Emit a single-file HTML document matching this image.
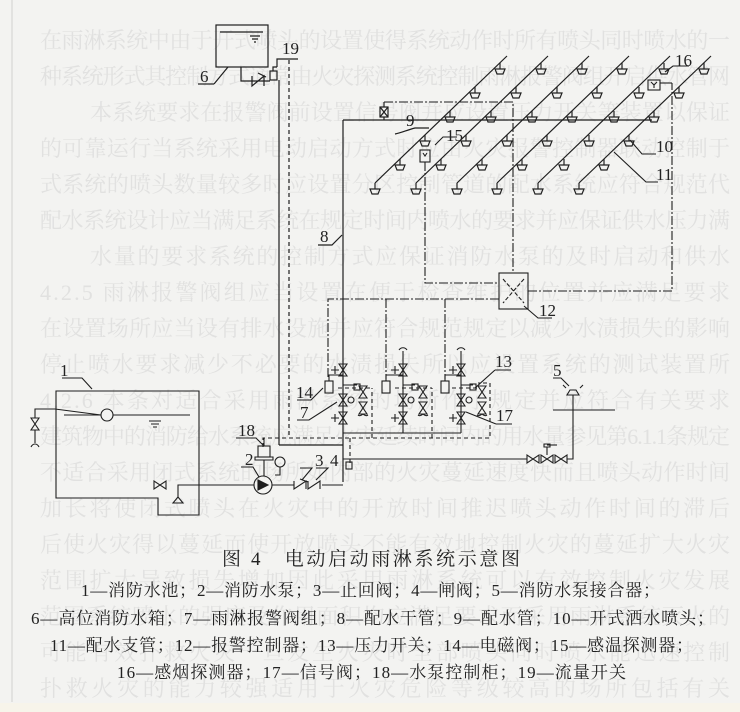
<!DOCTYPE html>
<html><head><meta charset="utf-8"><style>
html,body{margin:0;padding:0;background:#f3f3f1;}
svg{display:block}
.bg{font-family:"Liberation Serif","Noto Serif CJK SC",serif;font-size:22px;fill:#e1e1e0}
.lb{font-family:"Liberation Serif","Noto Serif CJK SC",serif;font-size:17px;fill:#222}
.cap{font-family:"Liberation Serif","Noto Serif CJK SC",serif;font-size:19px;fill:#222}
.lg{font-family:"Liberation Serif","Noto Serif CJK SC",serif;font-size:17px;fill:#222}
</style></head><body>
<svg width="740" height="712" viewBox="0 0 740 712" xmlns="http://www.w3.org/2000/svg">
<defs>
<g id="h" fill="none" stroke="#222" stroke-width="1.2"><path d="M0,0v6M-5,6h10l-2,5h-6z"/></g>
<g id="vv" fill="none" stroke="#222" stroke-width="1.1"><path d="M-4,-6h8l-8,12h8z"/></g>
<g id="hv" fill="none" stroke="#222" stroke-width="1.1"><path d="M-6,-4v8l12,-8v8z"/></g>
</defs>
<rect width="740" height="712" fill="#f3f3f1"/>
<rect x="0" y="703" width="740" height="9" fill="#f7f4ea"/>
<line x1="12" y1="0" x2="12" y2="702" stroke="#d0d0d0"/>
<g class="bg">
<text x="40" y="48" textLength="690">在雨淋系统中由于开式喷头的设置使得系统动作时所有喷头同时喷水的一</text>
<text x="40" y="84" textLength="690">种系统形式其控制方式通常由火灾探测系统控制雨淋报警阀组开启供水管网</text>
<text x="90" y="120" textLength="640">本系统要求在报警阀前设置信号阀并应设置压力开关等装置以保证</text>
<text x="40" y="156" textLength="690">的可靠运行当系统采用电动启动方式时应由火灾报警控制器联动控制于</text>
<text x="40" y="192" textLength="690">式系统的喷头数量较多时应设置分区控制管道的配水系统应符合规范代</text>
<text x="40" y="228" textLength="690">配水系统设计应当满足系统在规定时间内喷水的要求并应保证供水压力满</text>
<text x="90" y="264" textLength="640">水量的要求系统的控制方式应保证消防水泵的及时启动和供水</text>
<text x="40" y="300" textLength="690">4.2.5 雨淋报警阀组应当设置在便于检查维护的位置并应满足要求</text>
<text x="40" y="336" textLength="690">在设置场所应当设有排水设施并应符合规范规定以减少水渍损失的影响</text>
<text x="40" y="372" textLength="690">停止喷水要求减少不必要的水渍损失所以应设置系统的测试装置所</text>
<text x="40" y="408" textLength="690">4.2.6 本条对适合采用雨淋系统的场所作了规定并应符合有关要求</text>
<text x="40" y="444" textLength="690">建筑物中的消防给水系统应满足火灾延续时间内的用水量参见第6.1.1条规定</text>
<text x="40" y="480" textLength="690">不适合采用闭式系统的场所如内部的火灾蔓延速度快而且喷头动作时间</text>
<text x="40" y="516" textLength="690">加长将使闭式喷头在火灾中的开放时间推迟喷头动作时间的滞后</text>
<text x="40" y="552" textLength="690">后使火灾得以蔓延而使开放喷头不能有效地控制火灾的蔓延扩大火灾</text>
<text x="40" y="588" textLength="690">范围扩大导致损失增加因此采用雨淋系统可以有效控制火灾发展</text>
<text x="40" y="624" textLength="690">范围系统喷水的强度及作用面积均应满足要求而采用雨淋系统灭火的</text>
<text x="40" y="660" textLength="690">可能有效扑救火灾一旦发生火灾时全部喷头同时喷水能迅速控制</text>
<text x="40" y="696" textLength="690">扑救火灾的能力较强适用于火灾危险等级较高的场所包括有关</text>
</g>

<g fill="none" stroke="#1e1e1e" stroke-width="1.2">
<rect x="216" y="25" width="52" height="42"/>
<line x1="220" y1="32" x2="263" y2="32"/>
<path d="M250,36h10M252,39h6M254,42h2"/>
<line x1="198" y1="84" x2="214" y2="84"/><line x1="214" y1="84" x2="228" y2="67"/>
<path d="M241,67v14h11"/>
<path d="M252,76v10l12,-10v10M252,81h18" />
<path d="M258,73l8,4"/>
<rect x="270" y="71" width="7" height="9"/>
<path d="M273,71v-4h4"/>
<path d="M277,67v-8h21"/>
<line x1="279" y1="80" x2="279" y2="445"/>
<line x1="289" y1="60" x2="289" y2="438" stroke-dasharray="4,3"/>
<line x1="343" y1="120" x2="343" y2="482"/>
<line x1="343" y1="120" x2="652" y2="120"/>
<line x1="279" y1="445" x2="343" y2="445"/>
<rect x="380" y="107" width="8" height="10"/>
<path d="M380,107l8,10M388,107l-8,10"/>
<line x1="384" y1="117" x2="384" y2="120"/>
<line x1="384" y1="107" x2="384" y2="102"/>
<path d="M395,134c6,-1 12,-4 20,-6h14" />
<path d="M318,245h14l10,-10"/>
<line x1="507" y1="56" x2="375" y2="183"/>
<line x1="548" y1="56" x2="416" y2="183"/>
<line x1="589" y1="56" x2="457" y2="183"/>
<line x1="629" y1="56" x2="497" y2="183"/>
<line x1="670" y1="56" x2="538" y2="183"/>
<line x1="711" y1="56" x2="579" y2="183"/>
</g>
<g>
<use href="#h" x="500" y="63"/><use href="#h" x="541" y="63"/><use href="#h" x="582" y="63"/><use href="#h" x="622" y="63"/><use href="#h" x="664" y="63"/><use href="#h" x="704" y="63"/>
<use href="#h" x="475" y="87"/><use href="#h" x="516" y="87"/><use href="#h" x="557" y="87"/><use href="#h" x="597" y="87"/><use href="#h" x="639" y="87"/><use href="#h" x="679" y="87"/>
<use href="#h" x="450" y="111"/><use href="#h" x="491" y="111"/><use href="#h" x="532" y="111"/><use href="#h" x="572" y="111"/><use href="#h" x="614" y="111"/><use href="#h" x="654" y="111"/>
<use href="#h" x="425" y="135"/><use href="#h" x="466" y="135"/><use href="#h" x="507" y="135"/><use href="#h" x="547" y="135"/><use href="#h" x="589" y="135"/><use href="#h" x="629" y="135"/>
<use href="#h" x="400" y="159"/><use href="#h" x="441" y="159"/><use href="#h" x="482" y="159"/><use href="#h" x="522" y="159"/><use href="#h" x="564" y="159"/><use href="#h" x="604" y="159"/>
<use href="#h" x="375" y="183"/><use href="#h" x="416" y="183"/><use href="#h" x="457" y="183"/><use href="#h" x="497" y="183"/><use href="#h" x="538" y="183"/><use href="#h" x="579" y="183"/>
</g>
<g fill="none" stroke="#1e1e1e" stroke-width="1.1">
<rect x="420" y="150" width="10" height="12"/>
<path d="M423,153l2,3l2,-3" />
<rect x="648" y="80" width="12" height="10"/>
<path d="M651,82l3,3l3,-3M654,85v3"/>
<path d="M660,83h12"/>
<g stroke-dasharray="9,2,2,2">
<path d="M384,102h129v171"/>
<path d="M425,162v121h74"/>
<path d="M528,291h144v-208"/>
<path d="M499,299h-171v80"/>
<path d="M386,299v80"/>
<path d="M445,299v80"/>
</g>
<rect x="499" y="273" width="29" height="36"/>
<path d="M503,279l21,24M524,279l-21,24" stroke-dasharray="4,2"/>
<path d="M524,306l14,12h14"/>
<path d="M435,145l8,-8h14"/>
<path d="M665,72l8,-6h16"/>
<path d="M630,140l12,14h14"/>
<path d="M614,152l32,30h12"/>
<path d="M343,433h118"/>
<path d="M403,433v-82M461,433v-82"/>
<path d="M399,350c2,-3 6,-3 8,0M457,350c2,-3 6,-3 8,0"/>
<g stroke-dasharray="4,3">
<path d="M263,447v-9h227v-55h-12"/>
<path d="M372,438v-50M432,438v-50"/>
<path d="M350,438v28"/>
<path d="M338,388h34M395,388h37M452,388h25"/>
</g>
</g>
<g>
<use href="#vv" x="343" y="370"/><use href="#vv" x="343" y="400"/><use href="#vv" x="343" y="418"/>
<use href="#vv" x="403" y="370"/><use href="#vv" x="403" y="400"/><use href="#vv" x="403" y="418"/>
<use href="#vv" x="461" y="370"/><use href="#vv" x="461" y="400"/><use href="#vv" x="461" y="418"/>
<use href="#vv" x="363" y="392"/><use href="#vv" x="363" y="408"/>
<use href="#vv" x="423" y="392"/><use href="#vv" x="423" y="408"/>
<use href="#vv" x="482" y="392"/><use href="#vv" x="482" y="408"/>
<use href="#vv" x="35" y="424"/>
</g>
<g fill="none" stroke="#1e1e1e" stroke-width="1.1">
<path d="M331,370h8M335,366v8M391,370h8M395,366v8M449,370h8M453,366v8"/>
<path d="M331,418h8M335,414v8M391,418h8M395,414v8M449,418h8M453,414v8"/>
<circle cx="351" cy="400" r="3"/><circle cx="411" cy="400" r="3"/><circle cx="469" cy="400" r="3"/>
<rect x="325" y="381" width="8" height="12"/><rect x="382" y="381" width="8" height="12"/><rect x="441" y="381" width="8" height="12"/>
<path d="M329,381v-6h14M386,381v-6h17M445,381v-6h16"/>
<path d="M343,385h14M403,385h12M461,385h12"/>
<rect x="354" y="384" width="6" height="6"/><rect x="412" y="384" width="6" height="6"/><rect x="470" y="384" width="6" height="6"/>
<path d="M363,414c-2,2 -4,2 -5,1M363,414c2,2 4,2 5,1"/>
<path d="M423,414c-2,2 -4,2 -5,1M423,414c2,2 4,2 5,1M482,414c-2,2 -4,2 -5,1M482,414c2,2 4,2 5,1"/>
<path d="M297,400h14l12,-12"/>
<path d="M297,420h12l28,-18"/>
<path d="M495,370h16M475,388l20,-18"/>
<path d="M496,424h16M466,412l30,12"/>
<path d="M56,391h143v124h-41v-17h-102z"/>
<path d="M35,418v-9h20l46,6"/>
<circle cx="107" cy="415" r="6"/>
<line x1="64" y1="415" x2="101" y2="415"/><line x1="113" y1="415" x2="190" y2="415"/>
<path d="M149,421h12M151,424h8M153,427h4"/>
<path d="M31,447c2,-4 6,-4 8,0"/>
<path d="M35,430v13"/>
<path d="M62,378h20l10,11"/>
<path d="M178,498v-13h76"/>
<path d="M173,503l5,-6l5,6z"/>
<circle cx="263" cy="485" r="9"/>
<path d="M258,480l10,5l-10,5z" fill="#1e1e1e"/>
<rect x="258" y="446" width="12" height="11"/>
<path d="M255,457h18v3h-18z"/>
<path d="M264,460v16M264,446v-8"/>
<circle cx="280" cy="462" r="5"/><path d="M280,467v8h-5"/>
<path d="M236,438h20l8,8"/>
<path d="M241,467h12l6,10"/>
<path d="M272,485h22M322,485h21"/>
<path d="M294,481v8l12,-8v8M300,479l8,3"/>
<path d="M308,481v8l12,-8v8"/>
<path d="M316,468h12l-12,12"/><path d="M300,468h12l-10,12"/>
<rect x="346" y="462" width="6" height="7"/>
<path d="M343,459h184M567,459h6v-64"/>
<path d="M553,410h62"/>
<path d="M567,395h12l-3,-5h-6z"/>
<path d="M566,388l-3,-3M580,388l3,-3"/>
<path d="M553,378h8l8,8"/>
<path d="M547,455v-8M544,444h6v3h-6z"/>
<path d="M547,445l10,0"/>
</g>
<g>
<use href="#hv" x="533" y="459"/><use href="#hv" x="547" y="459"/><use href="#hv" x="561" y="459"/>
<use href="#hv" x="160" y="485"/>
</g>
<g class="lb">
<text x="200" y="82">6</text>
<text x="282" y="54">19</text>
<text x="406" y="126">9</text>
<text x="446" y="141">15</text>
<text x="675" y="66">16</text>
<text x="656" y="152">10</text>
<text x="656" y="180">11</text>
<text x="320" y="242">8</text>
<text x="539" y="316">12</text>
<text x="296" y="398">14</text>
<text x="300" y="418">7</text>
<text x="495" y="367">13</text>
<text x="496" y="421">17</text>
<text x="553" y="376">5</text>
<text x="60" y="376">1</text>
<text x="238" y="436">18</text>
<text x="245" y="465">2</text>
<text x="315" y="466">3</text>
<text x="330" y="466">4</text>
</g>
<text class="cap" x="222" y="565" textLength="298">图 4　电动启动雨淋系统示意图</text>
<g class="lg">
<text x="81" y="596" textLength="579">1—消防水池；2—消防水泵；3—止回阀；4—闸阀；5—消防水泵接合器；</text>
<text x="31" y="624" textLength="683">6—高位消防水箱；7—雨淋报警阀组；8—配水干管；9—配水管；10—开式洒水喷头；</text>
<text x="50" y="651" textLength="643">11—配水支管；12—报警控制器；13—压力开关；14—电磁阀；15—感温探测器；</text>
<text x="117" y="678" textLength="509">16—感烟探测器；17—信号阀；18—水泵控制柜；19—流量开关</text>
</g>
</svg>
</body></html>
